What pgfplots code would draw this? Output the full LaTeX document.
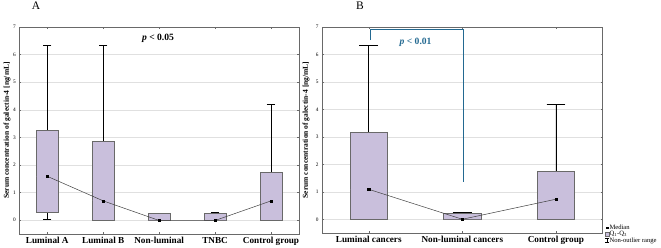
\documentclass[border=0pt]{standalone}
\usepackage{fontspec}
\setmainfont{Liberation Serif}
\usepackage{pgfplots}
\pgfplotsset{compat=1.18}
\usepgfplotslibrary{statistics}
\definecolor{boxfill}{RGB}{201,191,220}
\definecolor{pblue}{RGB}{35,105,145}
\definecolor{axgray}{RGB}{105,105,105}
\pgfplotsset{
 panel/.style={
  scale only axis, height=207pt,
  ymin=-0.5, ymax=7, ytick={0,1,2,3,4,5,6,7},
  ymajorgrids, grid style={black!12, line width=0.5pt},
  axis line style={axgray, line width=0.6pt},
  tick style={axgray, line width=0.4pt}, major tick length=2pt,
  ytick pos=both, xtick pos=both, tick align=inside,
  yticklabel style={font=\fontsize{5.3}{6}\selectfont},
  /pgf/number format/assume math mode=true,
  xticklabel style={font=\bfseries\fontsize{9.2}{10}\selectfont},
  ylabel={Serum concentration of galectin-4 [ng/mL]},
  clip=false,
 },
 mybox/.style={boxplot/draw direction=y, boxplot prepared={#1}, draw=axgray, fill=boxfill, line width=0.5pt,
   boxplot/every whisker/.style={black, line width=0.6pt},
   boxplot/every median/.style={draw=none}, forget plot},
 medline/.style={black!75, line width=0.5pt, mark=square*, mark size=1.1pt, mark options={black}, forget plot},
}
\begin{document}
\begin{tikzpicture}
\useasboundingbox (0,0) rectangle (661pt,248pt);
% Panel A
\begin{axis}[panel, at={(19.3pt,14pt)}, anchor=south west, width=279.7pt,
  xmin=-0.5, xmax=4.5, xtick={0,1,2,3,4},
  xticklabels={Luminal A, Luminal B, Non-luminal, TNBC, Control group},
  ylabel style={font=\bfseries\fontsize{7.5}{8}\selectfont, at={(axis description cs:-0.044,0.5)}, anchor=center}]
\addplot[mybox={draw position=0, lower whisker=0.02, lower quartile=0.27, median=1.6, upper quartile=3.27, upper whisker=6.34, box extend=0.4, whisker extend=0.15}] coordinates {};
\addplot[mybox={draw position=1, lower whisker=0, lower quartile=0, median=0.7, upper quartile=2.86, upper whisker=6.32, box extend=0.4, whisker extend=0.15}] coordinates {};
\addplot[mybox={draw position=2, lower whisker=0, lower quartile=0, median=0, upper quartile=0.24, upper whisker=0.24, box extend=0.4, whisker extend=0.15}] coordinates {};
\addplot[mybox={draw position=3, lower whisker=0, lower quartile=0, median=0, upper quartile=0.24, upper whisker=0.27, box extend=0.4, whisker extend=0.15}] coordinates {};
\addplot[mybox={draw position=4, lower whisker=0, lower quartile=0, median=0.7, upper quartile=1.75, upper whisker=4.2, box extend=0.4, whisker extend=0.15}] coordinates {};
\addplot[medline] coordinates {(0,1.59) (1,0.70) (2,-0.01) (3,-0.01) (4,0.70)};
\node[font=\bfseries\fontsize{9.6}{11}\selectfont] at (axis cs:1.98,6.6) {\textit{p} < 0.05};
\node[font=\fontsize{11.5}{12}\selectfont] at (axis description cs:0.06,1.103) {A};
\end{axis}
% Panel B
\begin{axis}[panel, at={(322pt,15pt)}, anchor=south west, width=280.7pt, height=206pt,
  xmin=-0.5, xmax=2.5, xtick={0,1,2},
  xticklabels={Luminal cancers, Non-luminal cancers, Control group},
  ylabel style={font=\bfseries\fontsize{7.5}{8}\selectfont, at={(axis description cs:-0.057,0.5)}, anchor=center},
  legend style={at={(1.008,-0.055)}, anchor=south west, draw=none, fill=none,
    font=\fontsize{6.6}{6.6}\selectfont, inner sep=0pt, row sep=-0.8pt,
    nodes={inner sep=0.6pt}}, legend cell align=left]
\addplot[mybox={draw position=0, lower whisker=0, lower quartile=0, median=1.09, upper quartile=3.17, upper whisker=6.33, box extend=0.4, whisker extend=0.2}] coordinates {};
\addplot[mybox={draw position=1, lower whisker=0, lower quartile=0, median=0, upper quartile=0.22, upper whisker=0.25, box extend=0.4, whisker extend=0.2}] coordinates {};
\addplot[mybox={draw position=2, lower whisker=0, lower quartile=0, median=0.73, upper quartile=1.73, upper whisker=4.19, box extend=0.4, whisker extend=0.2}] coordinates {};
\addplot[medline] coordinates {(0,1.09) (1,0) (2,0.73)};
\addplot[pblue, line width=0.7pt, forget plot] coordinates {(0.02,6.52) (0.02,6.91) (1.01,6.91) (1.01,1.37)};
\node[font=\bfseries\fontsize{9.6}{11}\selectfont, text=pblue] at (axis cs:0.5,6.46) {\textit{p} < 0.01};
\node[font=\fontsize{11.5}{12}\selectfont] at (axis description cs:0.135,1.103) {B};
\addlegendimage{legend image code/.code={\fill[black] (0.03cm,-0.03cm) rectangle (0.09cm,0.03cm);}}
\addlegendentry{Median}
\addlegendimage{legend image code/.code={\draw[axgray, fill=boxfill, line width=0.3pt] (0cm,-0.07cm) rectangle (0.12cm,0.07cm);}}
\addlegendentry{Q\textsubscript{1}-Q\textsubscript{3}}
\addlegendimage{legend image code/.code={\draw[black, line width=0.4pt] (0.06cm,-0.07cm)--(0.06cm,0.07cm) (0cm,-0.07cm)--(0.12cm,-0.07cm) (0cm,0.07cm)--(0.12cm,0.07cm);}}
\addlegendentry{Non-outlier range}
\end{axis}
\end{tikzpicture}
\end{document}
